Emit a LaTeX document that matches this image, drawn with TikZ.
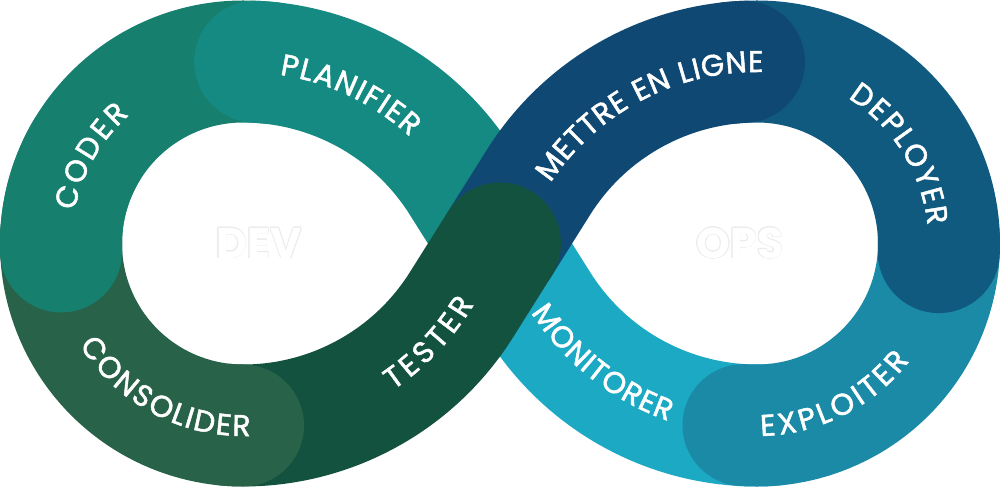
\documentclass[tikz,border=0pt]{standalone}
\usepackage{fontspec}
\setmainfont{Poppins}
\newfontfamily\labfont{Poppins}[FakeBold=1.6]
\usepackage{contour}
\contourlength{0.6pt}
\usetikzlibrary{calc,decorations.text}

\definecolor{coder}{HTML}{167F6E}
\definecolor{planifier}{HTML}{148A82}
\definecolor{consolider}{HTML}{276249}
\definecolor{tester}{HTML}{145240}
\definecolor{mettre}{HTML}{0F4872}
\definecolor{deployer}{HTML}{105A80}
\definecolor{exploiter}{HTML}{1A8AA6}
\definecolor{monitorer}{HTML}{1CA9C4}

\tikzset{
  band/.style={line width=122pt, line cap=round},
  lab/.style={decorate, decoration={text along path, text align={fit to path}, raise=-10.5pt,
      text={|\labfont\fontsize{30}{32}\selectfont\color{white}|#1}}},
  big/.style={font=\fontsize{43}{45}\selectfont\bfseries}
}

\begin{document}
\begin{tikzpicture}[x=1pt,y=1pt]
\useasboundingbox (-500,-243.5) rectangle (500,243.5);
\coordinate (C) at (0,0);
\coordinate (Lc) at (-257,0);
\coordinate (Rc) at (257,0);
\coordinate (Lu) at (-257,-76);
\coordinate (Ld) at (-257,76);
\coordinate (Ru) at (257,-76);
\coordinate (Rd) at (257,76);
% the bands, each one over the end of the one before
\draw[band,coder] ($(Lc)+(182.5:182)$) arc[start angle=182.5,end angle=90,radius=182]
   arc[start angle=90,end angle=84,radius=258];
\draw[band,planifier] ($(Lu)+(87.3:258)$) arc[start angle=87.3,end angle=32,radius=258] -- (C);
\draw[band,monitorer] (C) -- ($(Rd)+(212:258)$) arc[start angle=212,end angle=270,radius=258]
   arc[start angle=-90,end angle=-85,radius=182];
\draw[band,exploiter] ($(Rd)+(267:258)$) arc[start angle=267,end angle=270,radius=258]
   arc[start angle=-90,end angle=2,radius=182];
\draw[band,deployer] ($(Rc)+(-2.7:182)$) arc[start angle=-2.7,end angle=90,radius=182]
   arc[start angle=90,end angle=96,radius=258];
\draw[band,mettre] ($(Ru)+(92.9:258)$) arc[start angle=92.9,end angle=148,radius=258] -- (C);
\draw[band,tester] (C) -- ($(Ld)+(328:258)$) arc[start angle=328,end angle=270,radius=258]
   arc[start angle=270,end angle=265,radius=182];
\draw[band,consolider] ($(Lc)+(270:182)$) arc[start angle=270,end angle=177,radius=182];
\draw[band,coder] ($(Lc)+(182.5:182)$) arc[start angle=182.5,end angle=150,radius=182];
% labels
\path[lab=CODER] ($(Lc)+(168.8:182)$) arc[start angle=168.8,end angle=131.6,radius=182];
\path[lab=CONSOLIDER] ($(Lc)+(211.6:182)$) arc[start angle=211.6,end angle=272.4,radius=182];
\path[lab=PLANIFIER] ($(Lu)+(81.4:258)$) arc[start angle=81.4,end angle=47.6,radius=258];
\path[lab=TESTER] ($(Ld)+(303.9:258)$) arc[start angle=303.9,end angle=329.5,radius=258];
\path[lab=METTRE EN LIGNE] ($(Ru)+(146.4:258)$) arc[start angle=146.4,end angle=88.6,radius=258];
\path[lab=DEPLOYER] ($(Rc)+(57.8:182)$) arc[start angle=57.8,end angle=6.2,radius=182];
\path[lab=MONITORER] ($(Rd)+(212.6:258)$) arc[start angle=212.6,end angle=250.8,radius=258];
\path[lab=EXPLOITER] ($(Rc)+(271:182)$) arc[start angle=271,end angle=322.6,radius=182];
\node[big] (dev) at (-241,0) {\color{white}\contour{black!8}{DEV}};
\node[big] (ops) at (240,0) {\color{white}\contour{black!8}{OPS}};
\end{tikzpicture}
\end{document}
